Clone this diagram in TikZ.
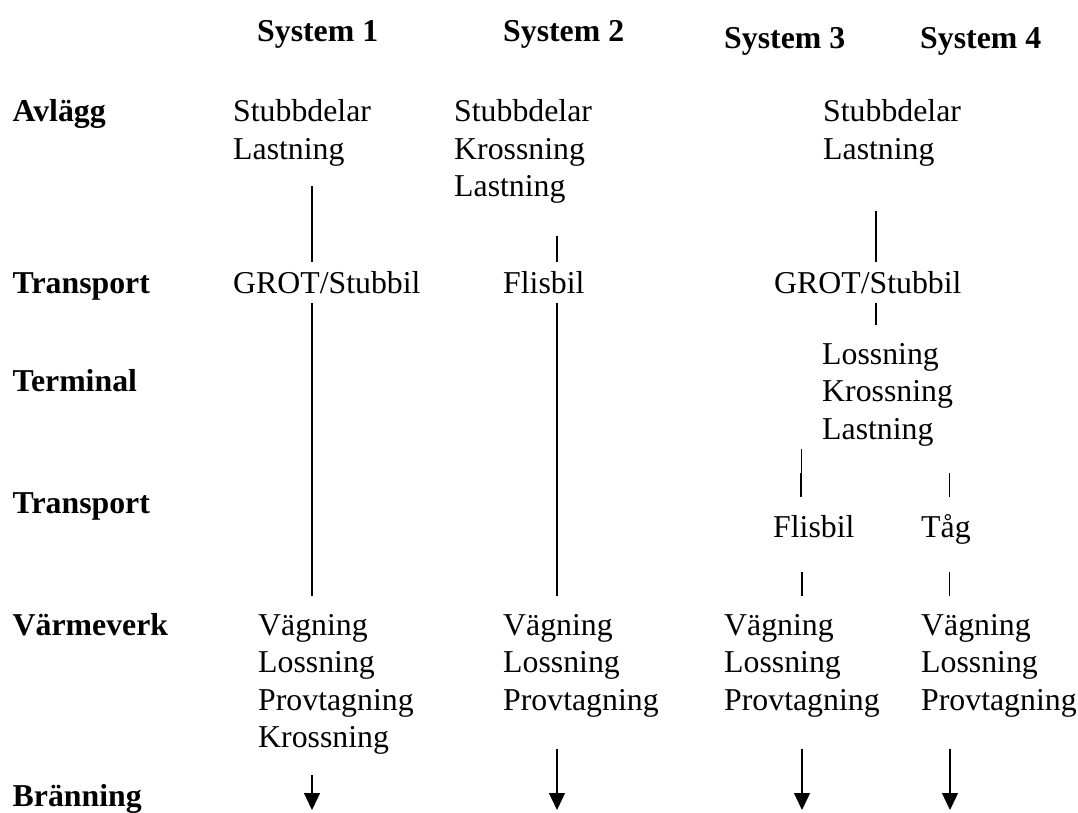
\documentclass[tikz,border=0pt]{standalone}
\usepackage{fontspec}
\setmainfont{Liberation Serif}
\usetikzlibrary{arrows.meta}
\begin{document}
\begin{tikzpicture}[x=1pt,y=-1pt,
  txt/.style={anchor=base west, inner sep=0pt, align=left, font=\fontsize{31.8}{37.5}\selectfont},
  hdr/.style={anchor=base west, inner sep=0pt, font=\fontsize{31.8}{37.5}\selectfont\bfseries},
  conn/.style={line width=1.3pt},
  thinconn/.style={line width=0.6pt},
  arr/.style={conn, -{Triangle[width=16pt,length=17pt]}}]
\useasboundingbox (0,0) rectangle (1078,813);
% headers
\node[hdr] (h1) at (257,41.7) {System 1};
\node[hdr] (h2) at (503,41.7) {System 2};
\node[hdr] (h3) at (724,48.3) {System 3};
\node[hdr] (h4) at (920,48.3) {System 4};
% row labels
\node[hdr] (r1) at (12.5,121.7) {Avlägg};
\node[hdr] (r2) at (12.5,293.3) {Transport};
\node[hdr] (r3) at (12.5,391.7) {Terminal};
\node[hdr] (r4) at (12.5,513.3) {Transport};
\node[hdr] (r5) at (12.5,635) {Värmeverk};
\node[hdr] (r6) at (12.5,806.7) {Bränning};
% Avlägg (base anchor = last line)
\node[txt] (a1) at (233,159.2) {Stubbdelar\\Lastning};
\node[txt] (a2) at (454,196.7) {Stubbdelar\\Krossning\\Lastning};
\node[txt] (a3) at (823,159.2) {Stubbdelar\\Lastning};
% Transport
\node[txt] (t1) at (233,293.3) {GROT/Stubbil};
\node[txt] (t2) at (503,293.3) {Flisbil};
\node[txt] (t3) at (774,293.3) {GROT/Stubbil};
% Terminal
\node[txt] (tm) at (822,439) {Lossning\\Krossning\\Lastning};
% Transport 2
\node[txt] (f3) at (773,537.7) {Flisbil};
\node[txt] (f4) at (921,537.7) {Tåg};
% Värmeverk
\node[txt] (v1) at (258,747.5) {Vägning\\Lossning\\Provtagning\\Krossning};
\node[txt] (v2) at (503,710) {Vägning\\Lossning\\Provtagning};
\node[txt] (v3) at (724,710) {Vägning\\Lossning\\Provtagning};
\node[txt] (v4) at (921,710) {Vägning\\Lossning\\Provtagning};
% connector end points
\coordinate (c1a) at (312,186);   \coordinate (c1b) at (312,262);
\coordinate (c1c) at (312,303);   \coordinate (c1d) at (312,596);
\coordinate (c1e) at (312,775);   \coordinate (c1f) at (312,810);
\coordinate (c2a) at (557,236);   \coordinate (c2b) at (557,262);
\coordinate (c2c) at (557,303);   \coordinate (c2d) at (557,596);
\coordinate (c2e) at (557,749);   \coordinate (c2f) at (557,810);
\coordinate (c3a) at (876,211);   \coordinate (c3b) at (876,262);
\coordinate (c3c) at (876,303);   \coordinate (c3d) at (876,325);
\coordinate (c3e) at (801,449);   \coordinate (c3f) at (801,473);
\coordinate (c3g) at (801,497);
\coordinate (c3h) at (802,572);   \coordinate (c3i) at (802,596);
\coordinate (c3j) at (802,749);   \coordinate (c3k) at (802,810);
\coordinate (c4a) at (949.5,473); \coordinate (c4b) at (949.5,497);
\coordinate (c4c) at (949.5,572); \coordinate (c4d) at (949.5,596);
\coordinate (c4e) at (950,749);   \coordinate (c4f) at (950,810);
% connectors
\draw[conn] (c1a) -- (c1b);
\draw[conn] (c1c) -- (c1d);
\draw[arr] (c1e) -- (c1f);
\draw[conn] (c2a) -- (c2b);
\draw[conn] (c2c) -- (c2d);
\draw[arr] (c2e) -- (c2f);
\draw[conn] (c3a) -- (c3b);
\draw[conn] (c3c) -- (c3d);
\draw[thinconn] (c3e) -- (c3f);
\draw[conn] (c3f) -- (c3g);
\draw[conn] (c3h) -- (c3i);
\draw[arr] (c3j) -- (c3k);
\draw[conn] (c4a) -- (c4b);
\draw[conn] (c4c) -- (c4d);
\draw[arr] (c4e) -- (c4f);
\end{tikzpicture}
\end{document}
